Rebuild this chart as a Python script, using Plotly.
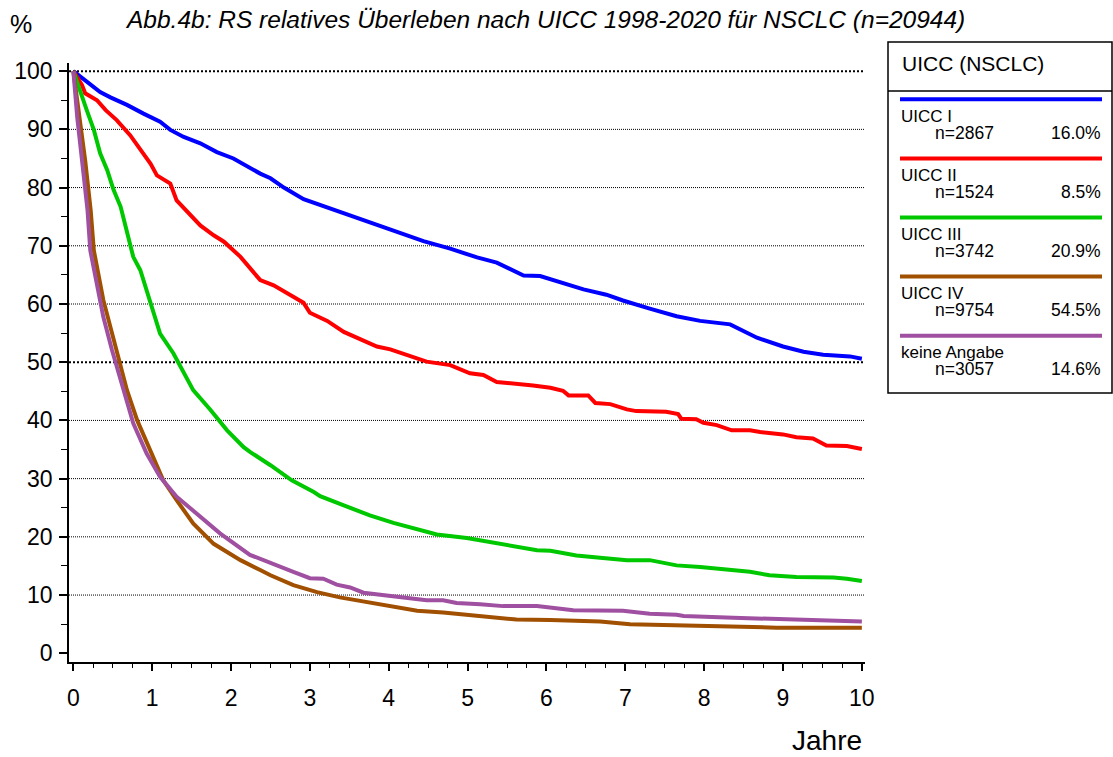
import plotly.graph_objects as go

# Jahre nach Diagnose / relatives Überleben in %
uicc1_t = [0, 0.17, 0.34, 0.47, 0.68, 0.89, 1.10, 1.23, 1.40, 1.61, 1.82, 2.03, 2.20, 2.37, 2.50,
           2.67, 2.92, 3.26, 3.51, 3.76, 4.06, 4.44, 4.78, 5.12, 5.37, 5.71, 5.92, 6.17, 6.47,
           6.76, 6.97, 7.31, 7.65, 7.95, 8.33, 8.67, 9.0, 9.26, 9.51, 9.85, 10.0]
uicc1_v = [100, 98.2, 96.4, 95.5, 94.2, 92.7, 91.3, 89.9, 88.7, 87.6, 86.1, 85.0, 83.6, 82.4, 81.6,
           80.0, 78.0, 76.4, 75.3, 74.1, 72.7, 70.8, 69.5, 68.0, 67.1, 64.9, 64.8, 63.7, 62.5,
           61.6, 60.6, 59.2, 57.9, 57.1, 56.5, 54.2, 52.7, 51.8, 51.3, 51.0, 50.6]

uicc2_t = [0, 0.06, 0.11, 0.15, 0.30, 0.41, 0.55, 0.72, 0.85, 0.98, 1.06, 1.23, 1.31, 1.48, 1.61, 1.78,
           1.91, 2.12, 2.24, 2.37, 2.54, 2.75, 2.92, 3.0, 3.22, 3.43, 3.64, 3.85, 4.02, 4.23,
           4.48, 4.78, 5.03, 5.20, 5.37, 5.83, 6.05, 6.21, 6.28, 6.53, 6.62, 6.81, 7.02, 7.14,
           7.52, 7.67, 7.71, 7.90, 7.99, 8.16, 8.35, 8.58, 8.71, 9.0, 9.17, 9.38, 9.55, 9.81, 10.0]
uicc2_v = [100, 98.6, 97.6, 96.2, 95.0, 93.3, 91.6, 89.0, 86.4, 84.1, 82.1, 80.7, 77.8, 75.5, 73.5, 71.8,
           70.7, 68.1, 66.1, 64.1, 63.2, 61.5, 60.2, 58.5, 57.1, 55.2, 53.9, 52.7, 52.2, 51.2,
           50.1, 49.5, 48.1, 47.8, 46.6, 46.0, 45.6, 45.1, 44.3, 44.3, 43.0, 42.8, 41.9, 41.6,
           41.5, 41.1, 40.3, 40.2, 39.6, 39.2, 38.3, 38.3, 38.0, 37.6, 37.1, 36.9, 35.7, 35.6, 35.1]

uicc3_t = [0, 0.09, 0.17, 0.26, 0.34, 0.43, 0.51, 0.60, 0.68, 0.76, 0.85, 0.98, 1.10, 1.27, 1.40,
           1.52, 1.74, 1.95, 2.16, 2.24, 2.50, 2.77, 3.05, 3.13, 3.43, 3.76, 4.06, 4.40, 4.61,
           4.99, 5.29, 5.58, 5.88, 6.05, 6.38, 6.68, 7.02, 7.31, 7.65, 7.95, 8.24, 8.58, 8.83,
           9.17, 9.64, 9.81, 10.0]
uicc3_v = [100, 96.2, 93.3, 89.9, 85.9, 83.0, 79.6, 76.7, 72.7, 68.1, 65.8, 60.1, 54.9, 51.5, 48.1,
           45.2, 41.8, 38.3, 35.4, 34.6, 32.3, 29.7, 27.7, 27.0, 25.4, 23.7, 22.4, 21.2, 20.4,
           19.8, 19.1, 18.3, 17.7, 17.6, 16.8, 16.4, 16.0, 16.0, 15.1, 14.8, 14.4, 14.0, 13.4,
           13.1, 13.0, 12.8, 12.4]

uicc4_t = [0, 0.07, 0.15, 0.22, 0.26, 0.38, 0.55, 0.68, 0.81, 0.98, 1.14, 1.31, 1.52, 1.78, 2.12,
           2.37, 2.50, 2.79, 3.09, 3.38, 3.72, 4.02, 4.36, 4.69, 5.16, 5.62, 6.05, 6.68, 7.06,
           8.24, 8.92, 10.0]
uicc4_v = [100, 93.0, 84.7, 76.1, 69.2, 60.7, 52.1, 45.2, 40.0, 34.9, 29.7, 26.3, 22.3, 18.8, 16.0,
           14.3, 13.4, 11.7, 10.5, 9.6, 8.8, 8.1, 7.3, 7.0, 6.4, 5.8, 5.7, 5.45, 5.0,
           4.6, 4.4, 4.4]

ka_t = [0, 0.05, 0.11, 0.18, 0.215, 0.30, 0.38, 0.49, 0.60, 0.76, 0.93, 1.10, 1.31, 1.61, 1.86,
        2.24, 2.54, 2.79, 3.0, 3.17, 3.34, 3.51, 3.68, 3.93, 4.19, 4.48, 4.69, 4.86, 5.16,
        5.45, 5.88, 6.17, 6.34, 6.97, 7.31, 7.65, 7.74, 8.37, 9.0, 9.42, 10.0]
ka_v = [100, 92.0, 84.7, 76.1, 69.2, 63.5, 57.8, 52.1, 46.9, 39.5, 34.3, 30.3, 26.9, 23.4, 20.6,
        16.9, 15.4, 14.0, 12.9, 12.8, 11.8, 11.3, 10.4, 10.0, 9.6, 9.1, 9.1, 8.65, 8.4,
        8.1, 8.1, 7.7, 7.4, 7.3, 6.8, 6.6, 6.4, 6.1, 5.8, 5.6, 5.45]

names = ['UICC I', 'UICC II', 'UICC III', 'UICC IV', 'keine Angabe']
counts = [2867, 1524, 3742, 9754, 3057]
shares = ['16.0%', '8.5%', '20.9%', '54.5%', '14.6%']
colors = ['#0000FF', '#FF0000', '#00C800', '#A05000', '#A050A0']

series_t = [uicc1_t, uicc2_t, uicc3_t, uicc4_t, ka_t]
series_v = [uicc1_v, uicc2_v, uicc3_v, uicc4_v, ka_v]

FONT = 'Liberation Sans, Arial, sans-serif'
W, H = 1113, 757
L, R, T, B = 69, 865, 63, 662   # plot area in pixels


def px_x(px):
    return (px - L) / (R - L)


def px_y(py):
    return (B - py) / (B - T)


fig = go.Figure()
for t, v, name, col in zip(series_t, series_v, names, colors):
    fig.add_trace(go.Scatter(x=t, y=v, mode='lines', name=name,
                             line=dict(color=col, width=4), showlegend=False))

# dotted horizontal grid, 50 % and 100 % bolder
for lvl in range(10, 101, 10):
    bold = lvl in (50, 100)
    fig.add_shape(type='line', xref='paper', x0=0, x1=1, yref='y', y0=lvl, y1=lvl,
                  line=dict(color='black', width=2 if bold else 1,
                            dash='2px,2px' if bold else '1px,1px'),
                  layer='below')

# legend box drawn by hand
box = dict(color='black', width=1.5)
fig.add_shape(type='rect', xref='paper', yref='paper',
              x0=px_x(888), x1=px_x(1112), y0=px_y(42), y1=px_y(393), line=box)
fig.add_shape(type='line', xref='paper', yref='paper',
              x0=px_x(888), x1=px_x(1112), y0=px_y(91), y1=px_y(91), line=box)
fig.add_annotation(text='UICC (NSCLC)', xref='paper', yref='paper', x=px_x(900), y=px_y(64),
                   xanchor='left', yanchor='middle', showarrow=False,
                   font=dict(family=FONT, size=21, color='black'))
for i, (name, n, pct, col) in enumerate(zip(names, counts, shares, colors)):
    y0 = 99.3 + 59.1 * i
    fig.add_shape(type='line', xref='paper', yref='paper',
                  x0=px_x(900), x1=px_x(1102), y0=px_y(y0), y1=px_y(y0),
                  line=dict(color=col, width=4))
    fig.add_annotation(text=name, xref='paper', yref='paper', x=px_x(899), y=px_y(y0 + 17),
                       xanchor='left', yanchor='middle', showarrow=False,
                       font=dict(family=FONT, size=17, color='black'))
    fig.add_annotation(text=f'n={n}', xref='paper', yref='paper', x=px_x(933), y=px_y(y0 + 33.5),
                       xanchor='left', yanchor='middle', showarrow=False,
                       font=dict(family=FONT, size=17.5, color='black'))
    fig.add_annotation(text=pct, xref='paper', yref='paper', x=px_x(1103), y=px_y(y0 + 33.5),
                       xanchor='right', yanchor='middle', showarrow=False,
                       font=dict(family=FONT, size=17.5, color='black'))

fig.add_annotation(text='<i>Abb.4b: RS relatives Überleben nach UICC 1998-2020 für NSCLC (n=20944)</i>',
                   xref='paper', yref='paper', x=px_x(545), y=px_y(19),
                   xanchor='center', yanchor='middle', showarrow=False,
                   font=dict(family=FONT, size=24.5, color='black'))
fig.add_annotation(text='%', xref='paper', yref='paper', x=px_x(21), y=px_y(24),
                   xanchor='center', yanchor='middle', showarrow=False,
                   font=dict(family=FONT, size=25, color='black'))
fig.add_annotation(text='Jahre', xref='paper', yref='paper', x=px_x(864), y=px_y(740),
                   xanchor='right', yanchor='middle', showarrow=False,
                   font=dict(family=FONT, size=28, color='black'))

fig.update_xaxes(range=[-0.055, 10.04], tick0=0, dtick=1, ticks='outside', ticklen=7,
                 tickwidth=1.5, tickcolor='black', showline=True, linecolor='black', linewidth=1.5,
                 showgrid=False, zeroline=False, ticklabelstandoff=8,
                 tickfont=dict(family=FONT, size=23, color='black'),
                 minor=dict(tick0=0, dtick=0.25, ticks='outside', ticklen=4, tickwidth=1,
                            tickcolor='black', showgrid=False))
fig.update_yaxes(range=[-1.5, 101.4], tick0=0, dtick=10, ticks='outside', ticklen=8,
                 tickwidth=1.5, tickcolor='black', showline=True, linecolor='black', linewidth=1.5,
                 showgrid=False, zeroline=False, ticklabelstandoff=2,
                 tickfont=dict(family=FONT, size=23, color='black'),
                 minor=dict(tick0=0, dtick=5, ticks='outside', ticklen=6, tickwidth=1,
                            tickcolor='black', showgrid=False))

fig.update_layout(width=W, height=H, plot_bgcolor='white', paper_bgcolor='white',
                  margin=dict(l=L, r=W - R, t=T, b=H - B), showlegend=False)
# the page body has an 8px default margin; drop it so the figure sits at (0, 0)
fig.write_html('out.html', config={'displayModeBar': False},
               post_script="document.body.style.margin = '0';")
